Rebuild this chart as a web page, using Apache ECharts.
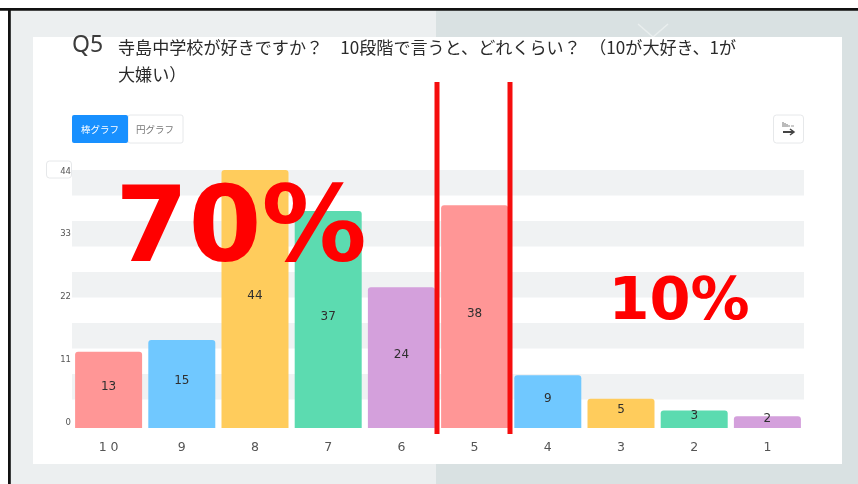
<!DOCTYPE html>
<html><head><meta charset="utf-8">
<style>html,body{margin:0;padding:0;background:#fff}#c{width:858px;height:484px}</style>
<script src="https://cdn.jsdelivr.net/npm/echarts@6/dist/echarts.min.js"></script>
</head><body><div id="c"></div>
<script>
const categories = ['1 0','9','8','7','6','5','4','3','2','1'];
const values = [13,15,44,37,24,38,9,5,3,2];
const barColors = ['#ff9696','#70c8ff','#ffcc5c','#5cdbb0','#d4a0dc'];
const yMax = 44;
const labelStep = 11;
const bandStep = 4.4;
const questionNo = 'Q5';
const questionText = '寺島中学校が好きですか？　10段階で言うと、どれくらい？　（10が大好き、1が\n大嫌い）';
const buttons = ['棒グラフ','円グラフ'];
const notes = ['70%','10%'];
const FONT = '"Noto Sans CJK JP","Noto Sans",sans-serif';

const chart = echarts.init(document.getElementById('c'), null, {renderer:'canvas'});
const rect = (x,y,w,h,fill,extra={}) => Object.assign({type:'rect',shape:{x,y,width:w,height:h,r:extra.r||0},
  style:{fill,stroke:extra.stroke||null,lineWidth:extra.stroke?1:0},z:extra.z===undefined?-10:extra.z,silent:true});
const txt = (x,y,text,size,fill,extra={}) => ({type:'text',x,y,z:extra.z===undefined?-3:extra.z,silent:true,
  style:{text,fontSize:size,fill,fontFamily:extra.family||FONT,fontWeight:extra.weight||'normal',
  align:extra.align||'left',verticalAlign:'middle'}});

chart.setOption({
  animation:false,
  title:[
    {text:questionNo,left:72,top:34,padding:0,textStyle:{fontSize:23,fontWeight:'normal',color:'#3c3c3c',fontFamily:'"Noto Sans",sans-serif'}},
    {text:questionText,left:118,top:34,padding:0,textStyle:{fontSize:17.1,fontWeight:'normal',color:'#2a2a2a',lineHeight:27,fontFamily:FONT}}
  ],
  grid:[
    {left:72,width:732,top:170,height:258},
    {left:72,width:732,top:170,height:255},
    {left:72,width:732,top:171.5,height:251}
  ],
  xAxis:[
    {gridIndex:0,type:'category',data:categories,axisLine:{show:false},axisTick:{show:false},
     axisLabel:{color:'#555',fontSize:12.5,margin:13,fontFamily:'"DejaVu Sans",sans-serif',interval:0}},
    {gridIndex:1,type:'category',show:false,data:categories},
    {gridIndex:2,type:'category',show:false,data:categories}
  ],
  yAxis:[
    {gridIndex:0,type:'value',min:0,max:yMax,interval:labelStep,axisLabel:{show:false},axisLine:{show:false},axisTick:{show:false},splitLine:{show:false}},
    {gridIndex:1,type:'value',min:0,max:yMax,interval:bandStep,axisLabel:{show:false},axisLine:{show:false},axisTick:{show:false},splitLine:{show:false},
     splitArea:{show:true,areaStyle:{color:['rgba(255,255,255,0)','#f0f2f3']}}},
    {gridIndex:2,type:'value',min:0,max:yMax,interval:labelStep,axisLine:{show:false},axisTick:{show:false},splitLine:{show:false},
     axisLabel:{color:'#555',fontSize:8.5,margin:1,fontFamily:'"DejaVu Sans",sans-serif'}}
  ],
  series:[{
    type:'bar',xAxisIndex:0,yAxisIndex:0,barWidth:67,z:3,
    data:values.map((v,i)=>({value:v,itemStyle:{color:barColors[i%barColors.length],borderRadius:[3,3,0,0]}})),
    label:{show:true,position:'inside',offset:[0,-3],color:'#2f2f2f',fontSize:12,fontWeight:500,fontFamily:'"DejaVu Sans",sans-serif'}
  }],
  graphic:{elements:[
    rect(0,0,858,484,'#ffffff',{z:-30}),
    rect(10,10,426,474,'#eceff0',{z:-29}),
    rect(436,10,422,474,'#d9e1e2',{z:-29}),
    {type:'polyline',shape:{points:[[638,24],[653,37],[668,24]]},style:{stroke:'#e9eeee',lineWidth:1.5,fill:null},z:-28,silent:true},
    rect(33,37,809,427,'#ffffff',{z:-27}),
    rect(0,8,858,2.7,'#111111',{z:-26}),
    rect(8,8,2.8,476,'#111111',{z:-26}),
    rect(128,115,55,28,'#ffffff',{stroke:'#e6e8ea',r:2,z:-5}),
    rect(72,115,56,28,'#1890ff',{r:2,z:-4}),
    txt(100,129,buttons[0],9.5,'#ffffff',{align:'center'}),
    txt(155,129,buttons[1],9.5,'#777777',{align:'center'}),
    rect(773.5,115,30,28,'#ffffff',{stroke:'#e6e8ea',r:3,z:-5}),
    {type:'polyline',shape:{points:[[783,132],[794,132]]},style:{stroke:'#444',lineWidth:2},z:-3,silent:true},
    {type:'polyline',shape:{points:[[790,129],[794,132],[790,135]]},style:{stroke:'#444',lineWidth:1.5,fill:null},z:-3,silent:true},
    {type:'polyline',shape:{points:[[783,122],[783,127]]},style:{stroke:'#777',lineWidth:1},z:-3,silent:true},
    {type:'polyline',shape:{points:[[785,123],[785,127]]},style:{stroke:'#777',lineWidth:1},z:-3,silent:true},
    {type:'polyline',shape:{points:[[787,124],[787,127]]},style:{stroke:'#777',lineWidth:1},z:-3,silent:true},
    {type:'polyline',shape:{points:[[789,125],[789,127]]},style:{stroke:'#888',lineWidth:1},z:-3,silent:true},
    {type:'polyline',shape:{points:[[791,126],[794,126]]},style:{stroke:'#999',lineWidth:1},z:-3,silent:true},
    rect(46.5,161,25,17,'#ffffff',{stroke:'#e6e8ea',r:3,z:-5}),
    rect(434.5,82,5,352,'#f50d0d',{z:20}),
    rect(507.5,82,5,352,'#f50d0d',{z:20}),
    txt(241,234,notes[0],105,'#ff0000',{align:'center',weight:'bold',z:21,family:'"DejaVu Sans",sans-serif'}),
    txt(679,304,notes[1],59,'#ff0000',{align:'center',weight:'bold',z:21,family:'"DejaVu Sans",sans-serif'})
  ]}
});
</script></body></html>
